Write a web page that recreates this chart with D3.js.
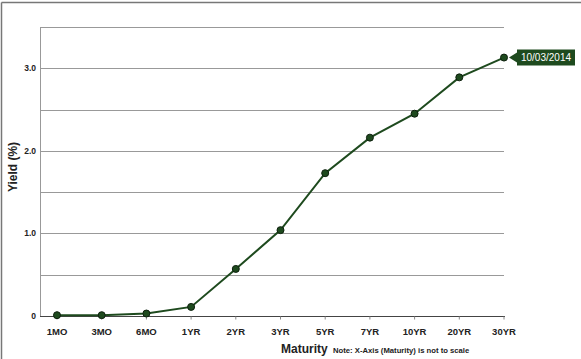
<!DOCTYPE html>
<html>
<head>
<meta charset="utf-8">
<script src="https://cdn.jsdelivr.net/npm/d3@7"></script>
<style>
  body { margin: 0; background: #fff; }
  svg { display: block; font-family: 'Liberation Sans', Arial, sans-serif; }
</style>
</head>
<body>
<svg id="chart" width="581" height="359"></svg>
<script>
// maturities and yields
let maturities = ['1MO', '3MO', '6MO', '1YR', '2YR', '3YR', '5YR', '7YR', '10YR', '20YR', '30YR'];
let yields = [0.01, 0.01, 0.03, 0.11, 0.57, 1.04, 1.73, 2.16, 2.45, 2.89, 3.13];
let yTickValues = [0, 1.0, 2.0, 3.0];
let gridValues = [0.5, 1.0, 1.5, 2.0, 2.5, 3.0, 3.5];
let curveDate = '10/03/2014';

let plot = {left: 40, right: 504, top: 27, bottom: 316};
let lineColor = '#1e4a1e';

let svg = d3.select('#chart');

// outer frame (only top and left edges show)
svg.append('line')
  .attr('x1', 1.5).attr('x2', 581).attr('y1', 2.5).attr('y2', 2.5)
  .attr('stroke', '#777').attr('stroke-width', 1.5);
svg.append('line')
  .attr('x1', 1.5).attr('x2', 1.5).attr('y1', 2.5).attr('y2', 359)
  .attr('stroke', '#777').attr('stroke-width', 1.5);

let xScale = d3.scalePoint()
  .domain(maturities)
  .range([plot.left + 17, plot.right]);

let yScale = d3.scaleLinear()
  .domain([0, 3.5])
  .range([plot.bottom, plot.top]);

// horizontal grid lines
svg.append('g')
  .selectAll('line')
  .data(gridValues)
  .enter()
  .append('line')
  .attr('x1', plot.left)
  .attr('x2', plot.right)
  .attr('y1', (d) => Math.round(yScale(d)) + 0.5)
  .attr('y2', (d) => Math.round(yScale(d)) + 0.5)
  .attr('stroke', '#999')
  .attr('stroke-width', 1);

// left axis line
svg.append('line')
  .attr('x1', plot.left + 0.5).attr('x2', plot.left + 0.5)
  .attr('y1', plot.top).attr('y2', plot.bottom)
  .attr('stroke', '#999');

// y axis labels
svg.append('g')
  .selectAll('text')
  .data(yTickValues)
  .enter()
  .append('text')
  .attr('x', plot.left - 4)
  .attr('y', (d) => yScale(d))
  .attr('dy', '0.35em')
  .attr('text-anchor', 'end')
  .attr('font-size', 8.5)
  .attr('font-weight', 'bold')
  .attr('fill', '#222')
  .text((d) => d === 0 ? '0' : d.toFixed(1));

// x axis
let xAxis = svg.append('g')
  .attr('transform', 'translate(0,' + (plot.bottom + 0.5) + ')');

xAxis.append('line')
  .attr('x1', plot.left).attr('x2', plot.right + 1)
  .attr('stroke', '#444').attr('stroke-width', 1.2);

xAxis.selectAll('.tick')
  .data(maturities)
  .enter()
  .append('line')
  .attr('x1', (d) => xScale(d))
  .attr('x2', (d) => xScale(d))
  .attr('y1', 0)
  .attr('y2', 3)
  .attr('stroke', '#888');

xAxis.selectAll('text')
  .data(maturities)
  .enter()
  .append('text')
  .attr('x', (d) => xScale(d))
  .attr('y', 18)
  .attr('text-anchor', 'middle')
  .attr('font-size', 9.5)
  .attr('font-weight', 'bold')
  .attr('fill', '#222')
  .text((d) => d);

// axis titles
svg.append('text')
  .attr('transform', 'translate(17,167) rotate(-90)')
  .attr('text-anchor', 'middle')
  .attr('font-size', 12)
  .attr('font-weight', 'bold')
  .attr('fill', '#222')
  .text('Yield (%)');

svg.append('text')
  .attr('x', 281)
  .attr('y', 353)
  .attr('font-size', 12)
  .attr('font-weight', 'bold')
  .attr('fill', '#222')
  .text('Maturity');

svg.append('text')
  .attr('x', 333)
  .attr('y', 353)
  .attr('font-size', 7.7)
  .attr('font-weight', 'bold')
  .attr('fill', '#222')
  .text('Note: X-Axis (Maturity) is not to scale');

// yield curve
let line = d3.line()
  .x((d, i) => xScale(maturities[i]))
  .y((d) => yScale(d));

svg.append('path')
  .datum(yields)
  .attr('d', line)
  .attr('fill', 'none')
  .attr('stroke', lineColor)
  .attr('stroke-width', 2);

svg.append('g')
  .selectAll('circle')
  .data(yields)
  .enter()
  .append('circle')
  .attr('cx', (d, i) => xScale(maturities[i]))
  .attr('cy', (d) => yScale(d))
  .attr('r', 3.5)
  .attr('fill', lineColor)
  .attr('stroke', '#0d1f0d')
  .attr('stroke-width', 1);

// date label at the end of the curve
let lastX = xScale(maturities[maturities.length - 1]);
let lastY = yScale(yields[yields.length - 1]);
let label = svg.append('g')
  .attr('transform', 'translate(' + (lastX + 5) + ',' + lastY + ')');

label.append('path')
  .attr('d', 'M0,0 L8,-5 L8,-8 L66,-8 L66,8 L8,8 L8,5 Z')
  .attr('fill', lineColor);

label.append('text')
  .attr('x', 37)
  .attr('y', 0)
  .attr('dy', '0.35em')
  .attr('text-anchor', 'middle')
  .attr('font-size', 10)
  .attr('fill', '#fff')
  .text(curveDate);
</script>
</body>
</html>
